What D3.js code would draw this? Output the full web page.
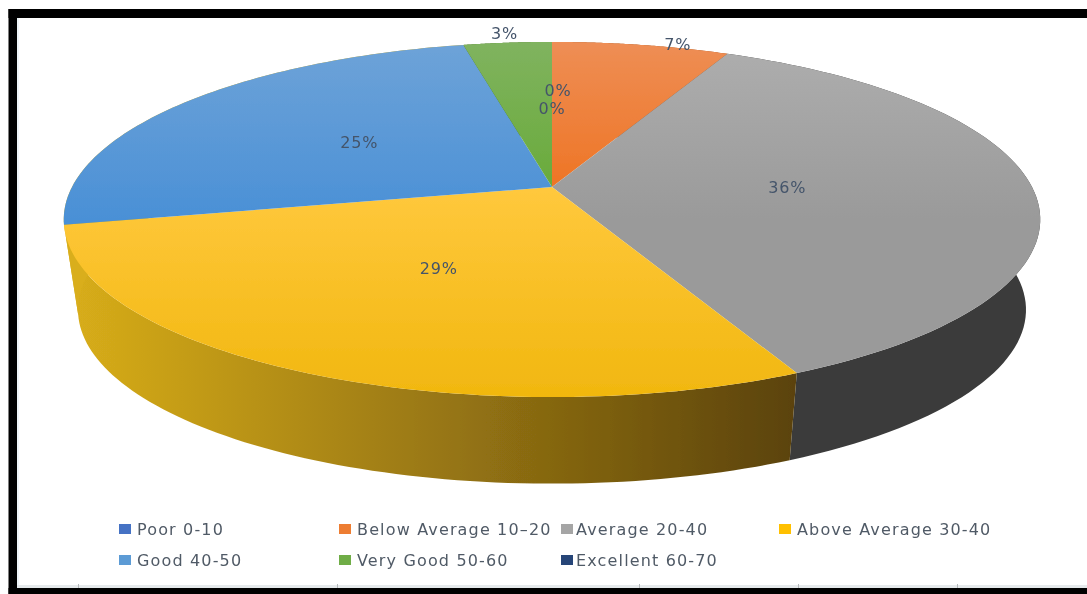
<!DOCTYPE html>
<html><head><meta charset="utf-8">
<script src="https://cdn.jsdelivr.net/npm/d3@7"></script>
<style>html,body{margin:0;padding:0;background:#fff;overflow:hidden}svg{display:block}</style>
</head><body><svg id="c" width="1087" height="594"></svg>
<script>
const categories = ["Poor 0-10","Below Average 10\u201320","Average 20-40","Above Average 30-40","Good 40-50","Very Good 50-60","Excellent 60-70"];
const values = [0, 7.0, 36.0, 28.6, 24.9, 3.49, 0];
const topColorsLight = ["#4472c4","#ee8e55","#aeaeae","#ffc83c","#6ea3d8","#80b35f","#264478"];
const topColorsDark  = ["#3f68b5","#ee6f1a","#9a9a9a","#f1b70f","#4a90d6","#64a933","#264478"];
const topStart = [0,0,0,0.42,0,0,0];
const topEnd = [0.5,0.5,0.5,1,0.5,0.5,0.5];
const sideColorsLeft  = ["#2c4a80","#a0480f","#3b3b3b","#d9ae1a","#d9ae1a","#43701f","#18294a"];
const sideColorsRight = ["#2c4a80","#a0480f","#3b3b3b","#5a420c","#d9ae1a","#43701f","#18294a"];
const swatchColors = ["#4472c4","#ed7d31","#a5a5a5","#ffc000","#5b9bd5","#70ad47","#264478"];
const legendColumns = [119, 339, 561, 779];
const legendRows = [529, 560];
const labelRadius = [0.63,1,0.49,0.49,0.5,1.08,0.5];
const labelShiftX = [6,37,0,0,0,0,0];
const frameTicks = [78,337,639,798,957];

const svg = d3.select("#c");
const defs = svg.append("defs");
defs.append("filter").attr("id","soft").append("feGaussianBlur").attr("stdDeviation",0.6);
defs.append("filter").attr("id","edge").append("feGaussianBlur").attr("stdDeviation",0.7);

const pie = d3.pie().sort(null).value(d => d.v);
const arcs = pie(values.map((v,i)=>({v,i})));

const k = 0.183;
const project = (a, level, r=1) => {
  const x = r*Math.sin(a), y = -r*Math.cos(a), w = 1 - k*y;
  const A = level ? 466 : 480, B = level ? 168 : 171.6, y0 = level ? 278 : 187;
  return [552 + A*x/w, y0 + B*y/w];
};
const line = d3.line();
const arcPts = (a0,a1,level) => d3.range(0,81).map(i => project(a0+(a1-a0)*i/80, level));

values.forEach((v,i)=>{
  const g1 = defs.append("linearGradient").attr("id","top"+i).attr("gradientUnits","userSpaceOnUse")
    .attr("x1",0).attr("y1",42).attr("x2",0).attr("y2",397);
  g1.append("stop").attr("offset",topStart[i]).attr("stop-color",topColorsLight[i]);
  g1.append("stop").attr("offset",topEnd[i]).attr("stop-color",topColorsDark[i]);
  const g2 = defs.append("linearGradient").attr("id","side"+i).attr("gradientUnits","userSpaceOnUse")
    .attr("x1",65).attr("y1",0).attr("x2",800).attr("y2",0);
  g2.append("stop").attr("offset",0).attr("stop-color",sideColorsLeft[i]);
  g2.append("stop").attr("offset",1).attr("stop-color",sideColorsRight[i]);
});

// frame
svg.append("rect").attr("x",17).attr("y",18).attr("width",2).attr("height",570).attr("fill","#eef5f8");
svg.append("rect").attr("x",17).attr("y",585).attr("width",1070).attr("height",3).attr("fill","#e6eaec");
svg.selectAll("rect.tick").data(frameTicks).join("rect").attr("class","tick")
  .attr("x",d=>d).attr("y",584).attr("width",1).attr("height",4).attr("fill","#b5b9bc");
svg.append("rect").attr("x",8.5).attr("y",9).attr("width",1090).attr("height",9).attr("fill","#000");
svg.append("rect").attr("x",8.5).attr("y",9).attr("width",8.5).attr("height",590).attr("fill","#000");
svg.append("rect").attr("x",8.5).attr("y",588).attr("width",1090).attr("height",10).attr("fill","#000");

const chart = svg.append("g").attr("filter","url(#edge)");
chart.selectAll("path.side").data(arcs.filter(d=>d.endAngle>d.startAngle)).join("path")
  .attr("class","side")
  .attr("fill",d=>`url(#side${d.data.i})`)
  .attr("d",d=>line(arcPts(d.startAngle,d.endAngle,0).concat(arcPts(d.startAngle,d.endAngle,1).reverse()))+"Z");
chart.selectAll("path.top").data(arcs.filter(d=>d.endAngle>d.startAngle)).join("path")
  .attr("class","top")
  .attr("fill",d=>`url(#top${d.data.i})`)
  .attr("d",d=>line([project(0,0,0)].concat(arcPts(d.startAngle,d.endAngle,0)))+"Z");

const fmt = v => Math.round(v)+"%";
const labelAt = d => project((d.startAngle+d.endAngle)/2, 0, labelRadius[d.data.i]);
svg.append("g").attr("filter","url(#soft)").selectAll("text").data(arcs).join("text")
  .attr("x",d=>labelAt(d)[0]+labelShiftX[d.data.i])
  .attr("y",d=>labelAt(d)[1])
  .attr("text-anchor","middle").attr("dominant-baseline","central")
  .attr("font-family","'DejaVu Sans'").attr("font-size",16).attr("letter-spacing",0.8).attr("fill","#44546a")
  .text(d=>fmt(d.data.v));

// legend
const leg = svg.append("g").attr("filter","url(#soft)").selectAll("g").data(categories).join("g")
  .attr("transform",(d,i)=>{
    const c = i<4 ? legendColumns[i] : legendColumns[i-4];
    return `translate(${c},${legendRows[i<4?0:1]})`;
  });
leg.append("rect").attr("x",0).attr("y",-5).attr("width",12).attr("height",10)
  .attr("fill",(d,i)=>swatchColors[i]);
leg.append("text").attr("x",(d,i)=>i===2||i===6?15:18).attr("y",0).attr("dominant-baseline","central")
  .attr("font-family","'DejaVu Sans'").attr("font-size",16).attr("letter-spacing",1.15).attr("fill","#505a66").text(d=>d);
</script></body></html>
